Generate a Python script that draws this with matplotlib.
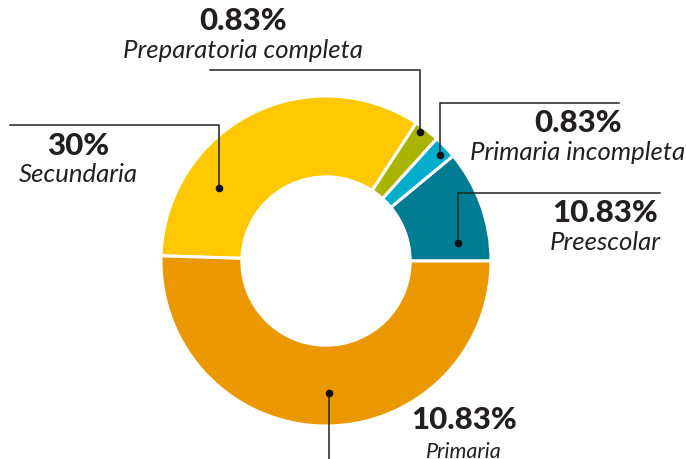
import matplotlib.pyplot as plt

# Slice sizes (the printed labels are kept as-is)
categories = ['Preescolar', 'Primaria incompleta', 'Preparatoria completa', 'Secundaria', 'Primaria']
sizes = [11.0, 2.3, 2.5, 33.7, 50.5]
pct_labels = ['10.83%', '0.83%', '0.83%', '30%', '10.83%']
colors = ['#007C92', '#00AECB', '#A8B400', '#FFC800', '#EB9800']

W, H = 686, 459
fig = plt.figure(figsize=(W / 100, H / 100), dpi=100)
ax = fig.add_axes([0, 0, 1, 1])

cx, cy, r = 326, H - 261, 165
ax.pie(sizes, colors=colors, startangle=0, counterclock=True,
       center=(cx, cy), radius=r,
       wedgeprops=dict(width=r * 0.49, edgecolor='white', linewidth=2.2))

ax.set_xlim(0, W)
ax.set_ylim(0, H)
ax.set_aspect('equal')
ax.axis('off')


def leader(pts):
    xs = [p[0] for p in pts]
    ys = [H - p[1] for p in pts]
    ax.plot(xs, ys, color='#222222', lw=1.1, solid_joinstyle='miter')
    ax.plot(xs[0], ys[0], 'o', color='#111111', ms=4.5)


# leader lines (start at the dot)
leader([(458, 243), (458, 193), (660, 193)])
leader([(440, 155), (440, 103), (619, 103)])
leader([(420, 132), (420, 70), (210, 70)])
leader([(219, 188), (219, 125), (10, 125)])
leader([(329, 393), (329, 470)])

bold = dict(family=['Lato', 'DejaVu Sans'], fontweight='black', fontsize=22.5, color='#231F20')
ital = dict(family=['Lato', 'DejaVu Sans'], style='italic', color='#231F20')

# (x center, y of percent, y of label, label size)
spots = [
    (605, 213, 242, 18.5),
    (578, 123, 152, 18.5),
    (243, 21, 51, 18.5),
    (78, 146, 175, 18.5),
    (464, 420, 452, 15.5),
]
for (x, yp, yl, fs), pct, name in zip(spots, pct_labels, categories):
    ax.text(x, H - yp, pct, ha='center', va='center', **bold)
    ax.text(x, H - yl, name, ha='center', va='center', fontsize=fs, **ital)

plt.savefig('out.png', dpi=100)
